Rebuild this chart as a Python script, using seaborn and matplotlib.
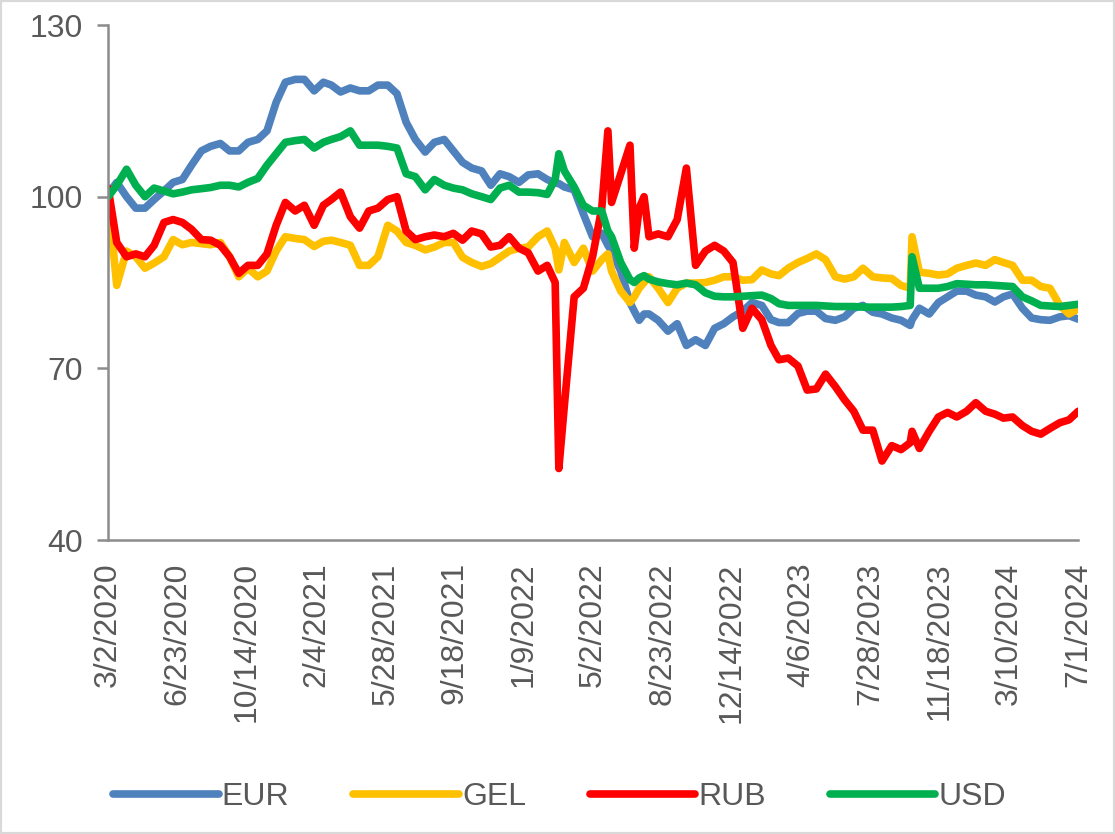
import matplotlib
matplotlib.use('Agg')
import matplotlib.pyplot as plt
from matplotlib.patches import Rectangle
import pandas as pd
import seaborn as sns

# semi-monthly readings (plus a few extra days around spikes)
dates = [
    '2020-03-02', '2020-03-16', '2020-04-01', '2020-04-16', '2020-05-01', '2020-05-16', '2020-06-01', '2020-06-16',
    '2020-07-01', '2020-07-16', '2020-08-01', '2020-08-16', '2020-09-01', '2020-09-16', '2020-10-01', '2020-10-16',
    '2020-11-01', '2020-11-16', '2020-12-01', '2020-12-16',
    '2021-01-01', '2021-01-16', '2021-02-01', '2021-02-16', '2021-03-01', '2021-03-16', '2021-04-01', '2021-04-16',
    '2021-05-01', '2021-05-16', '2021-06-01', '2021-06-16', '2021-07-01', '2021-07-16', '2021-08-01', '2021-08-16',
    '2021-09-01', '2021-09-16', '2021-10-01', '2021-10-16', '2021-11-01', '2021-11-16', '2021-12-01', '2021-12-16',
    '2022-01-01', '2022-01-16', '2022-02-01', '2022-02-16', '2022-03-01', '2022-03-07', '2022-03-16', '2022-04-01',
    '2022-04-16', '2022-05-01', '2022-05-16', '2022-05-26', '2022-06-01', '2022-06-16', '2022-07-01', '2022-07-08',
    '2022-07-16', '2022-07-24', '2022-08-01', '2022-08-16', '2022-09-01', '2022-09-16', '2022-10-01', '2022-10-16',
    '2022-11-01', '2022-11-16', '2022-12-01', '2022-12-16',
    '2023-01-01', '2023-01-16', '2023-02-01', '2023-02-16', '2023-03-01', '2023-03-16', '2023-04-01', '2023-04-16',
    '2023-05-01', '2023-05-16', '2023-06-01', '2023-06-16', '2023-07-01', '2023-07-16', '2023-08-01', '2023-08-16',
    '2023-09-01', '2023-09-16', '2023-10-01', '2023-10-04', '2023-10-16', '2023-11-01', '2023-11-16', '2023-12-01',
    '2023-12-16',
    '2024-01-01', '2024-01-16', '2024-02-01', '2024-02-16', '2024-03-01', '2024-03-16', '2024-04-01', '2024-04-16',
    '2024-05-01', '2024-05-16', '2024-06-01', '2024-06-16', '2024-07-01',
]

eur = [
    100.5, 102.5, 100, 98, 98, 99.5, 101, 102.5, 103, 105.5, 108, 108.8, 109.3, 108, 108, 109.5, 110, 111.5, 116.5, 120,
    120.5, 120.5, 118.5, 120, 119.5, 118.3, 119, 118.5, 118.5, 119.5, 119.5, 118, 113, 110, 107.8, 109.5, 110, 108,
    106, 105, 104.5, 102, 104, 103.5,
    102.5, 103.8, 104, 103, 102.4, 102.3, 101.7, 101.2, 97, 93, 93.6, 91.5, 90.5, 87, 81.5, 80, 78.4, 79.5, 79.5,
    78.4, 76.5, 77.8, 74, 75, 74, 77, 77.8, 79,
    80, 81.5, 81, 78.5, 78, 78, 79.6, 80, 80, 78.7, 78.4, 79, 80.5, 81, 79.8, 79.5, 78.8, 78.4, 77.5, 78.5, 80.5,
    79.5, 81.5, 82.5, 83.5,
    83.5, 82.8, 82.5, 81.6, 82.5, 83, 80.5, 78.8, 78.5, 78.4, 79, 79.2, 78.6,
]

gel = [
    100, 84.5, 90.5, 89.5, 87.5, 88.4, 89.5, 92.5, 91.6, 92, 91.8, 91.6, 92, 89.5, 86, 87.5, 86, 87, 90.5, 93,
    92.7, 92.5, 91.3, 92.2, 92.4, 92, 91.5, 88, 88, 89.5, 95, 94, 92, 91.5, 90.7, 91.2, 92, 92, 89.4, 88.5, 87.8,
    88.3, 89.4, 90.5,
    91, 91.2, 93, 94, 91, 87.2, 92, 88.5, 91, 87, 89, 90, 87, 83.5, 81.5, 82.5, 84, 85, 86, 84, 81.5, 84, 84.9,
    84.9, 85, 85.4, 86, 86,
    85.4, 85.5, 87.2, 86.5, 86.2, 87.5, 88.5, 89.2, 90, 89, 86, 85.6, 86, 87.5, 86, 85.8, 85.7, 84.5, 84, 93, 86.8,
    86.6, 86.3, 86.5, 87.5,
    88, 88.4, 88, 89, 88.5, 88, 85.4, 85.4, 84.3, 84, 81, 79.5, 80.4,
]

rub = [
    101.5, 92, 89.5, 90, 89.5, 91.5, 95.5, 96, 95.5, 94.3, 92.5, 92.4, 91.5, 89.5, 86.6, 88, 88, 90, 95, 99,
    97.5, 98.5, 95, 98.5, 99.5, 100.8, 96.5, 94.5, 97.5, 98, 99.5, 100, 94, 92.5, 93, 93.3, 93, 93.6, 92.4, 94,
    93.5, 91.2, 91.5, 93,
    91, 90.2, 87, 88, 85, 52.5, 63.5, 82.5, 84, 89.5, 98, 111.5, 99, 104, 109, 91, 98, 100, 93, 93.5, 93, 96, 105,
    88, 90.5, 91.5, 90.5, 88.5,
    77, 80.5, 78.5, 74, 71.5, 71.8, 70.4, 66.2, 66.4, 69, 66.8, 64.5, 62.5, 59.2, 59.2, 53.8, 56.5, 55.8, 57, 59,
    56, 59, 61.5, 62.3, 61.5,
    62.5, 64, 62.5, 62, 61.3, 61.5, 60, 59, 58.5, 59.5, 60.5, 61, 62.5,
]

usd = [
    100, 102, 104.8, 102, 100, 101.5, 101, 100.5, 100.8, 101.2, 101.4, 101.6, 102, 102, 101.7, 102.5, 103.2, 105.5,
    107.5, 109.5,
    109.8, 110, 108.5, 109.5, 110, 110.5, 111.5, 109, 109, 109, 108.8, 108.5, 104, 103.5, 101.2, 103, 102, 101.5,
    101.2, 100.5, 100, 99.5, 101.5, 102,
    100.8, 100.8, 100.7, 100.4, 103, 107.5, 104.5, 101.7, 98.5, 97.5, 97.5, 94, 93, 88.5, 85.5, 85, 85.8, 86.2, 85.6,
    85.1, 84.8, 84.6, 84.9, 84.6, 83.2, 82.6, 82.5, 82.5,
    82.6, 82.7, 82.8, 82.2, 81.3, 81, 81, 81, 81, 80.9, 80.8, 80.8, 80.8, 80.7, 80.7, 80.7, 80.7, 80.8, 81, 89.5,
    84, 84, 84, 84.3, 84.8,
    84.7, 84.6, 84.6, 84.5, 84.4, 84.3, 82.5, 81.8, 81, 80.9, 80.8, 81, 81.2,
]

tick_dates = ['2020-03-02', '2020-06-23', '2020-10-14', '2021-02-04', '2021-05-28', '2021-09-18', '2022-01-09',
              '2022-05-02', '2022-08-23', '2022-12-14', '2023-04-06', '2023-07-28', '2023-11-18', '2024-03-10',
              '2024-07-01']
y_ticks = [40, 70, 100, 130]

palette = {'EUR': '#4F81BD', 'GEL': '#FFC000', 'RUB': '#FF0000', 'USD': '#00B050'}

df = pd.DataFrame({'date': pd.to_datetime(dates), 'EUR': eur, 'GEL': gel, 'RUB': rub, 'USD': usd})
long_df = df.melt(id_vars='date', var_name='currency', value_name='value')

sns.set_style('white')
plt.rcParams['font.family'] = ['Liberation Sans Narrow', 'Liberation Sans', 'DejaVu Sans']
text_col = '#595959'

fig = plt.figure(figsize=(11.15, 8.34), dpi=100)
ax = fig.add_axes([0.097, 0.3525, 0.870, 0.6175])

sns.lineplot(data=long_df, x='date', y='value', hue='currency', palette=palette,
             linewidth=5.5, ax=ax, legend=True)

ax.set_xlim(pd.Timestamp(tick_dates[0]), pd.Timestamp(tick_dates[-1]))
ax.set_ylim(40, 130)
ax.set_yticks(y_ticks)
ticks = pd.to_datetime(tick_dates)
ax.set_xticks(ticks)
ax.set_xticklabels([f'{d.month}/{d.day}/{d.year}' for d in ticks], rotation=90)
ax.set_xlabel('')
ax.set_ylabel('')

for side in ['top', 'right']:
    ax.spines[side].set_visible(False)
for side in ['left', 'bottom']:
    ax.spines[side].set_color('#8c8c8c')
    ax.spines[side].set_linewidth(1.8)

ax.tick_params(axis='x', length=0, pad=16, labelsize=23, labelcolor=text_col)
ax.tick_params(axis='y', length=8, width=1.8, color='#8c8c8c', pad=10, labelsize=23, labelcolor=text_col,
               left=True)

handles, labels = ax.get_legend_handles_labels()
ax.get_legend().remove()
leg = fig.legend(handles, labels, loc='center', bbox_to_anchor=(0.502, 0.044), ncol=4, frameon=False,
                 handlelength=3.3, handletextpad=0.1, columnspacing=2.0, fontsize=23)
for t in leg.get_texts():
    t.set_color(text_col)
for line in leg.get_lines():
    line.set_linewidth(5.5)

fig.patches.append(Rectangle((0, 0), 1, 1, transform=fig.transFigure, fill=False,
                             edgecolor='#d9d9d9', linewidth=3))

fig.savefig('out.png', dpi=100)
plt.close(fig)
